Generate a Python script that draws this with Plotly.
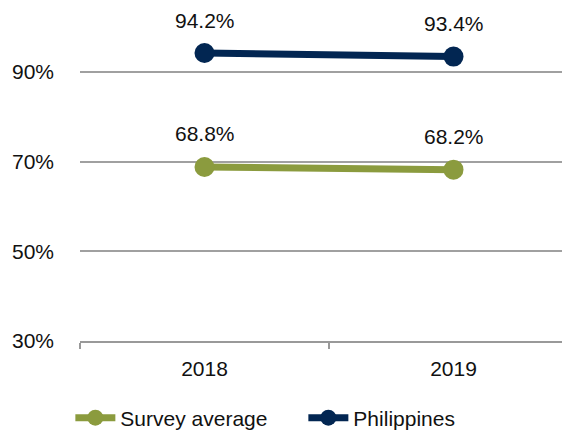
import plotly.graph_objects as go

years = ["2018", "2019"]
survey_average = [68.8, 68.2]
philippines = [94.2, 93.4]
y_ticks = [30, 50, 70, 90]
y_tick_labels = ["30%", "50%", "70%", "90%"]

green = "#8B9B3E"
navy = "#022652"
font = dict(family="Liberation Sans, Arial, sans-serif", size=21, color="#111111")

fig = go.Figure()
for name, vals, col in [("Survey average", survey_average, green),
                        ("Philippines", philippines, navy)]:
    fig.add_trace(go.Scatter(
        x=years, y=vals, name=name, mode="lines+markers",
        line=dict(color=col, width=7),
        marker=dict(color=col, size=20),
        cliponaxis=False,
    ))
    # value labels above each point (category index used for x)
    for i, v in enumerate(vals):
        fig.add_annotation(x=i, y=v, text=f"{v:.1f}%", showarrow=False,
                           yshift=33, font=font)

fig.update_layout(
    width=562, height=430,
    margin=dict(l=80, r=0, t=27, b=89, autoexpand=False),
    paper_bgcolor="white", plot_bgcolor="white",
    font=font,
    showlegend=True,
    legend=dict(orientation="h", x=-0.02, xanchor="left", y=-0.18, yanchor="top",
                font=font, itemwidth=40, entrywidth=178, traceorder="normal"),
    xaxis=dict(type="category", range=[-0.5, 1.4357], showgrid=False,
               showline=True, linecolor="#999999", linewidth=2,
               tickson="boundaries", ticks="outside", ticklen=6,
               tickcolor="#999999", tickwidth=2, tickfont=font,
               ticklabelstandoff=8),
    yaxis=dict(range=[30, 100], tickvals=y_ticks, ticktext=y_tick_labels,
               showgrid=True, gridcolor="#A0A0A0", gridwidth=2,
               zeroline=False, showline=False, ticks="", ticklabelstandoff=25,
               tickfont=font),
)

fig.write_html("out.html")
